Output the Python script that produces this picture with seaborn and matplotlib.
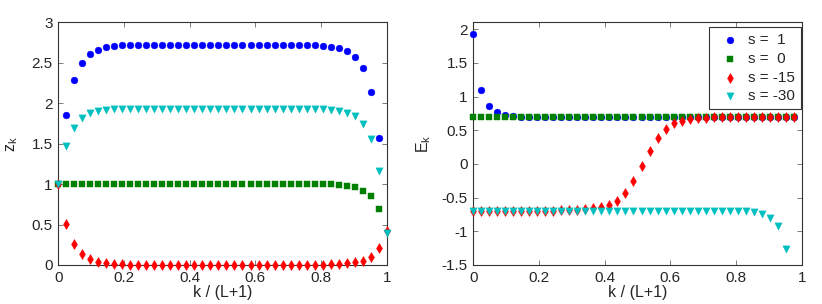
import numpy as np
import pandas as pd
import matplotlib
matplotlib.use("Agg")
import matplotlib.pyplot as plt
import seaborn as sns

# x positions are k / (L+1) with L = 40
L_PLUS_1 = 41
k_left = np.arange(0, 42)
k_right = np.arange(0, 41)
nan = np.nan

labels = ["s =  1", "s =  0", "s = -15", "s = -30"]
colors = ["#0000ff", "#008000", "#ff0000", "#00bfbf"]
markers = ["o", "s", "d", "v"]
sizes = [24, 14, 26, 27]

# left panel: z_k (k = 0 .. 41)
z_s1 = [nan, 1.86, 2.285, 2.50, 2.61, 2.66, 2.69, 2.71, 2.715, 2.72,
        2.72, 2.72, 2.72, 2.72, 2.72, 2.72, 2.72, 2.72, 2.72, 2.72,
        2.72, 2.72, 2.72, 2.72, 2.72, 2.72, 2.72, 2.72, 2.72, 2.72,
        2.72, 2.72, 2.715, 2.71, 2.70, 2.68, 2.645, 2.57, 2.43, 2.14,
        1.565, nan]
z_s0 = [1.0, 1.0, 1.0, 1.0, 1.0, 1.0, 1.0, 1.0, 1.0, 1.0,
        1.0, 1.0, 1.0, 1.0, 1.0, 1.0, 1.0, 1.0, 1.0, 1.0,
        1.0, 1.0, 1.0, 1.0, 1.0, 1.0, 1.0, 1.0, 1.0, 1.0,
        1.0, 1.0, 1.0, 1.0, 0.996, 0.99, 0.98, 0.96, 0.918, 0.848,
        0.695, nan]
z_s15 = [1.0, 0.502, 0.255, 0.132, 0.074, 0.041, 0.025, 0.012, 0.008, 0.005,
         0.005, 0.005, 0.005, 0.005, 0.005, 0.005, 0.005, 0.005, 0.005, 0.005,
         0.005, 0.005, 0.005, 0.005, 0.005, 0.005, 0.005, 0.005, 0.005, 0.005,
         0.005, 0.005, 0.005, 0.005, 0.008, 0.012, 0.02, 0.033, 0.053, 0.103,
         0.206, 0.42]
z_s30 = [1.0, 1.47, 1.70, 1.82, 1.877, 1.905, 1.92, 1.93, 1.935, 1.935,
         1.935, 1.935, 1.935, 1.935, 1.935, 1.935, 1.935, 1.935, 1.935, 1.935,
         1.935, 1.935, 1.935, 1.935, 1.935, 1.935, 1.935, 1.935, 1.935, 1.935,
         1.935, 1.935, 1.935, 1.93, 1.92, 1.91, 1.88, 1.84, 1.74, 1.564,
         1.16, 0.40]

# right panel: E_k (k = 0 .. 40)
E_s1 = [1.93, 1.10, 0.866, 0.777, 0.733, 0.713, 0.703, 0.697, 0.693, 0.693,
        0.693, 0.693, 0.693, 0.693, 0.693, 0.693, 0.693, 0.693, 0.693, 0.693,
        0.693, 0.693, 0.693, 0.693, 0.693, 0.693, 0.693, 0.693, 0.693, 0.693,
        0.693, 0.693, 0.693, 0.693, 0.693, 0.693, 0.693, 0.693, 0.693, 0.693,
        0.693]
E_s0 = [0.693, 0.693, 0.693, 0.693, 0.693, 0.693, 0.693, 0.693, 0.693, 0.693,
        0.693, 0.693, 0.693, 0.693, 0.693, 0.693, 0.693, 0.693, 0.693, 0.693,
        0.693, 0.693, 0.693, 0.693, 0.693, 0.693, 0.693, 0.693, 0.693, 0.693,
        0.693, 0.693, 0.693, 0.693, 0.693, 0.693, 0.693, 0.693, 0.693, 0.693,
        0.693]
E_s15 = [-0.693, -0.693, -0.693, -0.693, -0.693, -0.693, -0.693, -0.693, -0.693, -0.693,
         -0.693, -0.69, -0.686, -0.68, -0.67, -0.653, -0.643, -0.614, -0.545, -0.436,
         -0.257, -0.035, 0.193, 0.386, 0.515, 0.604, 0.643, 0.668, 0.683, 0.688,
         0.693, 0.693, 0.693, 0.693, 0.693, 0.693, 0.693, 0.693, 0.693, 0.693,
         0.693]
E_s30 = [-0.693, -0.693, -0.693, -0.693, -0.693, -0.693, -0.693, -0.693, -0.693, -0.693,
         -0.693, -0.693, -0.693, -0.693, -0.693, -0.693, -0.693, -0.693, -0.693, -0.693,
         -0.693, -0.693, -0.693, -0.693, -0.693, -0.693, -0.693, -0.693, -0.693, -0.693,
         -0.693, -0.693, -0.693, -0.693, -0.705, -0.718, -0.742, -0.80, -0.925, -1.26,
         nan]

x_ticks = [0, 0.2, 0.4, 0.6, 0.8, 1]
x_ticklabels = ["0", "0.2", "0.4", "0.6", "0.8", "1"]
zl_ticks = [0, 0.5, 1, 1.5, 2, 2.5, 3]
zl_ticklabels = ["0", "0.5", "1", "1.5", "2", "2.5", "3"]
E_ticks = [-1.5, -1, -0.5, 0, 0.5, 1, 1.5, 2]
E_ticklabels = ["-1.5", "-1", "-0.5", "0", "0.5", "1", "1.5", "2"]

sns.set_style("ticks")
plt.rcParams['font.family'] = ['Liberation Sans', 'DejaVu Sans']
plt.rcParams['axes.unicode_minus'] = False

fig = plt.figure(figsize=(8.22, 3.04), dpi=100)
ax1 = fig.add_axes([0.0709, 0.1283, 0.3995, 0.798])
ax2 = fig.add_axes([0.5758, 0.1283, 0.3995, 0.798])

left = pd.DataFrame({"x": k_left / L_PLUS_1, "s1": z_s1, "s0": z_s0,
                     "s15": z_s15, "s30": z_s30})
right = pd.DataFrame({"x": k_right / L_PLUS_1, "s1": E_s1, "s0": E_s0,
                      "s15": E_s15, "s30": E_s30})
cols = ["s1", "s0", "s15", "s30"]

for i, c in enumerate(cols):
    sns.scatterplot(data=left, x="x", y=c, color=colors[i], marker=markers[i],
                    s=sizes[i], linewidth=0.3, edgecolor=colors[i],
                    clip_on=False, ax=ax1, zorder=3 + i)
    sns.scatterplot(data=right, x="x", y=c, color=colors[i], marker=markers[i],
                    s=sizes[i], linewidth=0.3, edgecolor=colors[i],
                    clip_on=False, ax=ax2, zorder=3 + i, label=labels[i])

for ax in (ax1, ax2):
    ax.set_xlim(0, 1)
    ax.set_xticks(x_ticks)
    ax.set_xticklabels(x_ticklabels)
    ax.set_xlabel("k / (L+1)", fontsize=11.5, labelpad=0)
    ax.tick_params(direction="in", top=True, right=True, length=3.5,
                   width=0.6, color="#666666", labelsize=11, pad=4)
    for sp in ax.spines.values():
        sp.set_visible(True)
        sp.set_color("#333333")
        sp.set_linewidth(0.8)

ax1.set_ylim(0, 3)
ax1.set_yticks(zl_ticks)
ax1.set_yticklabels(zl_ticklabels)
ax1.set_ylabel(r"z$_\mathregular{k}$", fontsize=11.5, labelpad=8)

ax2.set_ylim(-1.5, 2.1)
ax2.set_yticks(E_ticks)
ax2.set_yticklabels(E_ticklabels)
ax2.set_ylabel(r"E$_\mathregular{k}$", fontsize=11.5, labelpad=6)

leg = ax2.legend(loc="upper right", bbox_to_anchor=(0.997, 0.98), fontsize=11,
                 frameon=True, fancybox=False, framealpha=1, edgecolor="#333333",
                 handletextpad=0.15, labelspacing=0.3, borderpad=0.4,
                 borderaxespad=0)
leg.get_frame().set_linewidth(0.8)

fig.savefig("out.png", dpi=100)
